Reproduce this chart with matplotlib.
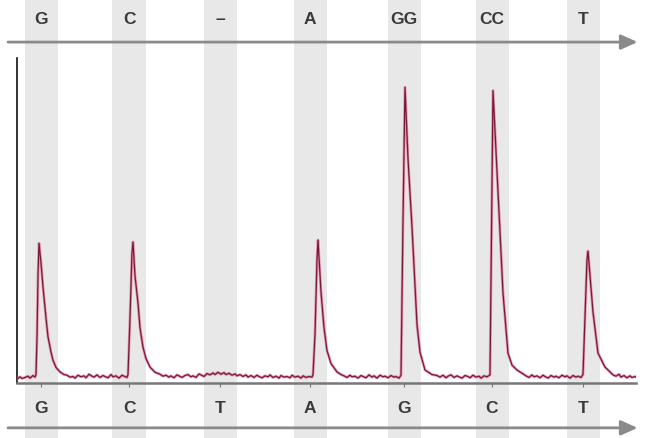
import numpy as np
import matplotlib.pyplot as plt
from matplotlib.transforms import blended_transform_factory

# Pirograma: ordem de dispensação (topo) e sequência lida (base)
dispensados = ['G', 'C', '–', 'A', 'GG', 'CC', 'T']
sequencia = ['G', 'C', 'T', 'A', 'G', 'C', 'T']
centros = [2.4, 11.2, 20.3, 29.3, 38.7, 47.5, 56.6]
largura_faixa = 3.3

tempo = [0.0, 0.3, 0.5, 0.8, 1.1, 1.3, 1.6, 1.8,
         1.9, 2.0, 2.1, 2.2, 2.4, 2.6, 2.9, 3.1, 3.4, 3.6, 3.9, 4.3, 4.7, 5.0,
         5.3, 5.6, 5.8, 6.1, 6.4, 6.7, 6.9, 7.2, 7.5, 7.7, 8.0, 8.3, 8.6, 8.8,
         9.1, 9.4, 9.6, 9.9, 10.2, 10.5, 10.7, 11.0,
         11.1, 11.3, 11.5, 11.6, 11.8, 12.1, 12.3, 12.6, 12.9, 13.3, 13.8, 14.3,
         14.6, 14.9, 15.2, 15.4, 15.7, 16.0, 16.3, 16.5, 16.8, 17.1, 17.4, 17.6,
         17.9, 18.2, 18.5, 18.7, 19.0, 19.3, 19.6, 19.8, 20.1, 20.4, 20.7, 20.9,
         21.2, 21.5, 21.8, 22.0, 22.3, 22.6, 22.9, 23.1, 23.4, 23.7, 24.0, 24.2,
         24.5, 24.8, 25.1, 25.3, 25.6, 25.9, 26.2, 26.4, 26.7, 27.0, 27.3, 27.5,
         27.8, 28.1, 28.4, 28.6, 28.9, 29.2, 29.5,
         29.6, 29.8, 30.0, 30.1, 30.4, 30.7, 31.0, 31.4, 32.0, 32.4,
         32.7, 33.0, 33.3, 33.5, 33.8, 34.1, 34.4, 34.6, 34.9, 35.2, 35.5, 35.7,
         36.0, 36.3, 36.6, 36.8, 37.1, 37.4, 37.7, 37.9, 38.2, 38.4,
         38.6, 38.8, 39.1, 39.5, 40.0, 40.3, 40.8, 41.5, 42.0,
         42.3, 42.6, 42.9, 43.1, 43.4, 43.7, 44.0, 44.2, 44.5, 44.8, 45.1, 45.3,
         45.6, 45.9, 46.2, 46.4, 46.7, 47.0, 47.3,
         47.45, 47.6, 48.1, 48.6, 49.1, 49.5, 50.0, 50.6,
         50.9, 51.2, 51.5, 51.7, 52.0, 52.3, 52.6, 52.8, 53.1, 53.4, 53.7, 53.9,
         54.2, 54.5, 54.8, 55.0, 55.3, 55.6, 55.9, 56.1, 56.4, 56.6,
         56.8, 57.0, 57.1, 57.6, 58.1, 58.8, 59.6,
         59.9, 60.2, 60.4, 60.7, 61.0, 61.3, 61.5, 61.8, 62.0]
intensidade = [1.2, 1.9, 1.4, 1.7, 2.1, 1.5, 2.3, 1.8,
               2.6, 14.0, 33.0, 43.0, 37.0, 29.5, 20.0, 14.2, 9.5, 7.0, 4.8, 3.4, 2.6, 2.4,
               1.8, 2.0, 1.5, 2.4, 1.9, 2.2, 1.6, 2.7, 2.1, 1.8, 2.5, 1.7, 2.3, 2.0,
               1.6, 2.6, 1.9, 2.2, 1.5, 2.4, 2.1, 1.7,
               2.6, 20.0, 40.0, 43.4, 33.0, 24.6, 17.0, 11.0, 7.5, 4.9, 3.3, 2.7,
               2.1, 2.4, 1.8, 2.2, 1.6, 2.5, 2.0, 1.7, 2.3, 2.6, 1.9, 2.2,
               1.7, 2.8, 2.3, 2.0, 2.9, 2.5, 3.1, 2.6, 3.3, 2.7, 3.2, 2.6,
               3.0, 2.4, 2.8, 2.2, 2.6, 2.0, 2.5, 1.8, 2.3, 1.7, 2.4, 2.0,
               1.6, 2.2, 1.9, 2.5, 1.7, 2.1, 1.5, 2.3, 1.8, 2.0, 1.6, 2.4,
               1.8, 2.1, 1.5, 2.2, 1.7, 2.0, 1.8,
               2.6, 15.0, 38.0, 44.0, 28.0, 17.0, 10.0, 6.0, 3.4, 2.6,
               2.2, 1.7, 2.4, 1.9, 2.1, 1.5, 2.3, 2.0, 1.6, 2.5, 1.8, 2.2,
               1.5, 2.4, 1.9, 2.1, 1.6, 2.3, 1.8, 2.0, 1.5, 2.4,
               50.0, 91.0, 69.0, 48.0, 18.0, 9.5, 4.0, 2.6, 2.3,
               1.8, 2.4, 1.6, 2.1, 2.5, 1.7, 2.2, 1.9, 1.5, 2.3, 2.0, 1.6,
               2.4, 1.8, 2.1, 1.5, 2.2, 1.9, 2.5,
               45.0, 90.0, 58.5, 27.7, 9.2, 5.5, 4.0, 2.8,
               2.2, 1.7, 2.5, 1.9, 2.2, 1.6, 2.4, 2.0, 1.5, 2.3, 1.8, 2.1,
               1.6, 2.4, 1.9, 2.2, 1.5, 2.3, 1.8, 2.1, 1.7, 2.6,
               20.0, 38.0, 40.6, 21.8, 9.2, 4.9, 2.5,
               2.1, 2.7, 1.8, 2.3, 1.6, 2.2, 1.7, 2.0, 1.6]

fig = plt.figure(figsize=(6.54, 4.38), dpi=100)
ax = fig.add_axes([17/654, 55/438, 619/654, 325/438])
ax.set_xlim(0, 61.9)
ax.set_ylim(0, 100)

# faixas cinzas de cada dispensação, altura total da figura
for c in centros:
    ax.axvspan(c - largura_faixa/2, c + largura_faixa/2, ymin=-0.17, ymax=1.18,
               color='#e8e8e8', lw=0, zorder=0, clip_on=False)

ax.plot(tempo, intensidade, color='#e07a98', lw=2.0, alpha=0.75, zorder=3)
ax.plot(tempo, intensidade, color='#7a1836', lw=0.9, zorder=4)

for lado in ['top', 'right']:
    ax.spines[lado].set_visible(False)
ax.spines['left'].set_color('#111111')
ax.spines['left'].set_linewidth(1.2)
ax.spines['bottom'].set_color('#777777')
ax.spines['bottom'].set_linewidth(1.8)
ax.set_yticks([])
ax.set_xticks(centros)
ax.set_xticklabels([])
ax.tick_params(axis='x', length=3, width=0.8, color='#777777')

trans = blended_transform_factory(ax.transData, ax.transAxes)
for c, txt in zip(centros, dispensados):
    ax.text(c, 1.117, txt, transform=trans, ha='center', va='center',
            fontsize=12.5, fontweight='bold', color='#3a3a3a',
            family='Liberation Sans')
for c, txt in zip(centros, sequencia):
    ax.text(c, -0.077, txt, transform=trans, ha='center', va='center',
            fontsize=12.5, fontweight='bold', color='#3a3a3a',
            family='Liberation Sans')

# setas de direção
for y in [1.049, -0.138]:
    ax.annotate('', xy=(1.007, y), xytext=(-0.019, y), xycoords='axes fraction',
                arrowprops=dict(arrowstyle='-|>,head_length=1.0,head_width=0.45',
                                color='#8a8a8a', lw=2), annotation_clip=False)

plt.savefig('out.png', dpi=100)
